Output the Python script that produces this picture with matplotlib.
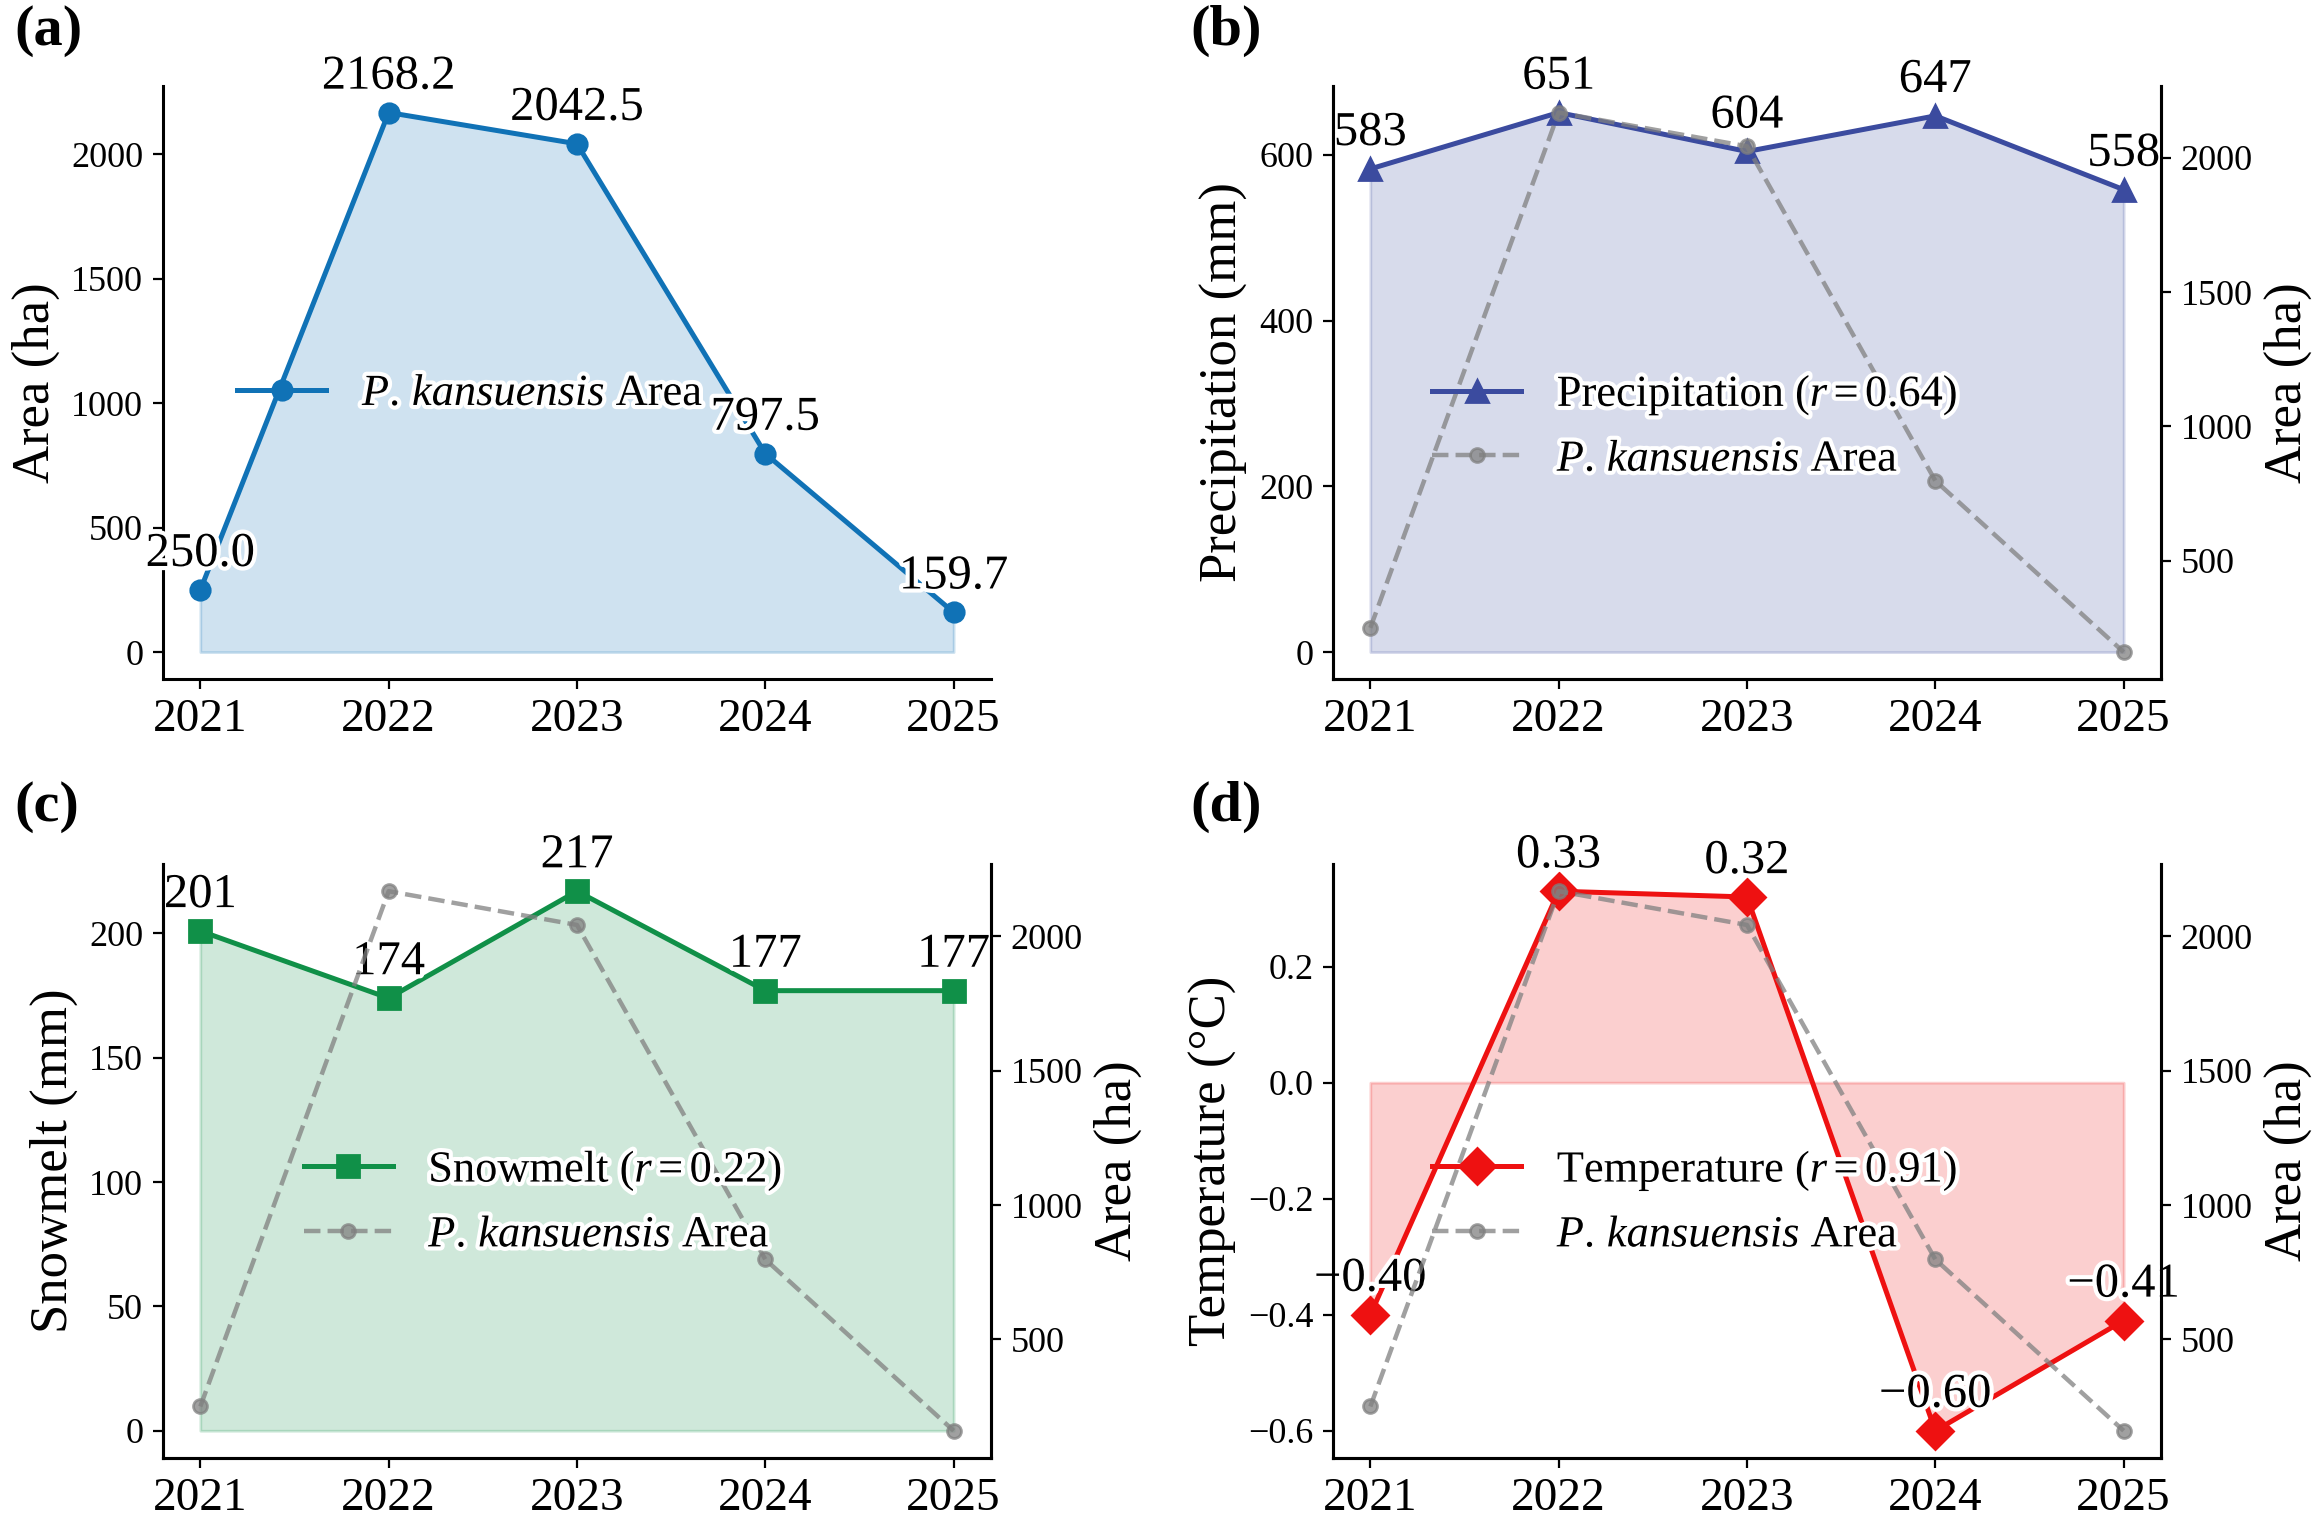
import numpy as np
import matplotlib
matplotlib.use("Agg")
import matplotlib.pyplot as plt
import matplotlib.patheffects as pe

plt.rcParams['font.family'] = ['Liberation Serif', 'DejaVu Serif']
plt.rcParams['mathtext.fontset'] = 'custom'
plt.rcParams['mathtext.rm'] = 'Liberation Serif'
plt.rcParams['mathtext.it'] = 'Liberation Serif:italic'
plt.rcParams['axes.linewidth'] = 1.1

# data
years = [2021, 2022, 2023, 2024, 2025]
area = [250.0, 2168.2, 2042.5, 797.5, 159.7]
precip = [583, 651, 604, 647, 558]
snowmelt = [201, 174, 217, 177, 177]
temp = [-0.40, 0.33, 0.32, -0.60, -0.41]
r_precip = 0.64
r_snow = 0.22
r_temp = 0.91

area_label = r'$P.\,kansuensis$ Area'
outline = [pe.withStroke(linewidth=3, foreground='white')]

fig, axs = plt.subplots(2, 2, figsize=(11.62, 7.64), dpi=200)
plt.subplots_adjust(left=0.070, right=0.930, bottom=0.046, top=0.944,
                    wspace=0.412, hspace=0.312)


def annotate(ax, xs, ys, fmt):
    for x, y in zip(xs, ys):
        txt = format(y, fmt).replace('-', '\u2212')
        ax.annotate(txt, (x, y), xytext=(0, 5), textcoords='offset points',
                    ha='center', va='bottom', fontsize=17.5, path_effects=outline)


def style_x(ax):
    ax.set_xticks(years)
    ax.set_xlim(2020.8, 2025.2)
    ax.tick_params(axis='x', labelsize=17)
    ax.tick_params(axis='y', labelsize=13)
    ax.spines['top'].set_visible(False)


def legend(ax, handles, anchor):
    leg = ax.legend(handles=handles, loc='center left', bbox_to_anchor=anchor,
                    frameon=False, fontsize=16)
    for t in leg.get_texts():
        t.set_path_effects(outline)


def twin_area(ax):
    ax2 = ax.twinx()
    ln, = ax2.plot(years, area, '--o', color='gray', alpha=0.75, lw=1.6,
                   markersize=5, label=area_label)
    ax2.set_ylabel('Area (ha)', fontsize=19)
    ax2.set_yticks([500, 1000, 1500, 2000])
    ax2.tick_params(axis='y', labelsize=13)
    ax2.spines['top'].set_visible(False)
    return ax2, ln


# (a) area
ax = axs[0, 0]
c = '#1072b6'
l1, = ax.plot(years, area, '-o', color=c, lw=1.8, markersize=7, label=area_label)
ax.fill_between(years, area, color=c, alpha=0.2)
annotate(ax, years, area, '.1f')
style_x(ax)
ax.spines['right'].set_visible(False)
ax.set_ylabel('Area (ha)', fontsize=19)
legend(ax, [l1], (0.042, 0.48))

# (b) precipitation
ax = axs[0, 1]
c = '#3b4b9f'
l1, = ax.plot(years, precip, '-^', color=c, lw=1.8, markersize=8,
              label=f'Precipitation ($r={r_precip:.2f}$)')
ax.fill_between(years, precip, color=c, alpha=0.2)
annotate(ax, years, precip, '.0f')
style_x(ax)
ax.set_ylabel('Precipitation (mm)', fontsize=19)
ax.set_yticks([0, 200, 400, 600])
ax2, l2 = twin_area(ax)
legend(ax2, [l1, l2], (0.072, 0.425))

# (c) snowmelt
ax = axs[1, 0]
c = '#109048'
l1, = ax.plot(years, snowmelt, '-s', color=c, lw=1.8, markersize=8,
              label=f'Snowmelt ($r={r_snow:.2f}$)')
ax.fill_between(years, snowmelt, color=c, alpha=0.2)
annotate(ax, years, snowmelt, '.0f')
style_x(ax)
ax.set_ylabel('Snowmelt (mm)', fontsize=19)
ax2, l2 = twin_area(ax)
legend(ax2, [l1, l2], (0.122, 0.43))

# (d) temperature
ax = axs[1, 1]
c = '#ee1111'
l1, = ax.plot(years, temp, '-D', color=c, lw=1.8, markersize=9,
              label=f'Temperature ($r={r_temp:.2f}$)')
ax.fill_between(years, temp, color=c, alpha=0.2)
annotate(ax, years, temp, '.2f')
style_x(ax)
ax.set_ylabel('Temperature (\u00b0C)', fontsize=19)
ax2, l2 = twin_area(ax)
legend(ax2, [l1, l2], (0.072, 0.43))

# panel letters
for x, y, s in [(0.006, 0.997, '(a)'), (0.512, 0.997, '(b)'),
                (0.006, 0.489, '(c)'), (0.512, 0.489, '(d)')]:
    fig.text(x, y, s, fontsize=21, fontweight='bold', va='top')

fig.savefig('out.png', dpi=200)
